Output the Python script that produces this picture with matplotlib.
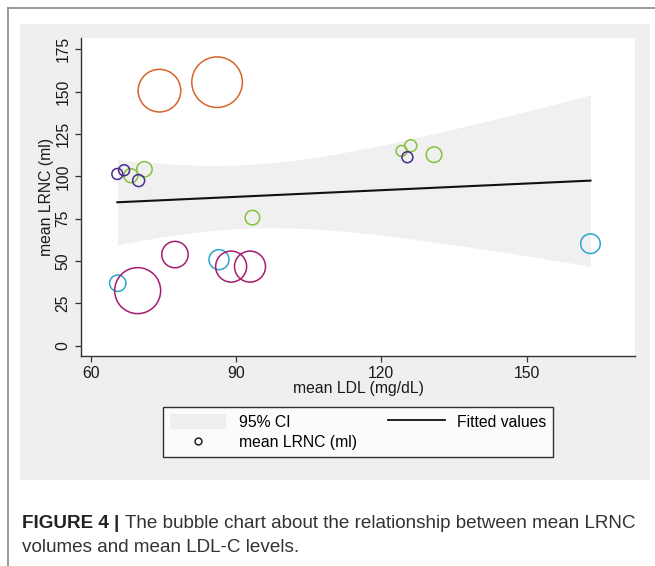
import numpy as np
import matplotlib
matplotlib.use("Agg")
import matplotlib.pyplot as plt
from matplotlib.patches import Rectangle, Patch
from matplotlib.lines import Line2D

plt.rcParams['font.family'] = ['Liberation Sans', 'DejaVu Sans']

# ---- data ----
groups = ['green', 'purple', 'cyan', 'magenta', 'orange']
group_colors = {'orange': '#d8632b', 'purple': '#4a2a8f', 'green': '#86c13d',
                'magenta': '#a51c6f', 'cyan': '#2aa6cb'}

ldl_green = [68.3, 71.1, 93.4, 124.2, 126.1, 130.9]
lrnc_green = [100.4, 104.2, 75.6, 115.0, 118.1, 112.8]
w_green = [49, 59, 53, 30, 36, 61]

ldl_purple = [65.5, 66.9, 69.9, 125.4]
lrnc_purple = [101.4, 103.6, 97.5, 111.3]
w_purple = [30, 30, 36, 30]

ldl_cyan = [65.6, 86.5, 163.2]
lrnc_cyan = [36.9, 50.8, 60.2]
w_cyan = [67, 100, 96]

ldl_magenta = [77.4, 89.0, 92.9, 69.7]
lrnc_magenta = [53.8, 46.7, 46.7, 32.5]
w_magenta = [174, 240, 240, 529]

ldl_orange = [74.2, 86.1]
lrnc_orange = [150.6, 155.6]
w_orange = [454, 640]

series = {
    'green': (ldl_green, lrnc_green, w_green),
    'purple': (ldl_purple, lrnc_purple, w_purple),
    'cyan': (ldl_cyan, lrnc_cyan, w_cyan),
    'magenta': (ldl_magenta, lrnc_magenta, w_magenta),
    'orange': (ldl_orange, lrnc_orange, w_orange),
}

# fitted line and 95% CI
fit_intercept = 76.1
fit_slope = 0.131
ci_center = 91.3
ci_min_half = 18.8
ci_spread = 0.653

xticks = [60, 90, 120, 150]
yticks = [0, 25, 50, 75, 100, 125, 150, 175]

# ---- figure ----
W, H = 655, 566
fig = plt.figure(figsize=(W / 100, H / 100), dpi=100)
fig.patch.set_facecolor('white')

def fx(px):
    return px / W

def fy(py):
    return 1 - py / H

FS = 11.3

# graph region (light gray)
fig.patches.append(Rectangle((fx(20), fy(480)), fx(650) - fx(20), fy(24) - fy(480),
                             transform=fig.transFigure, facecolor='#efefef',
                             edgecolor='none', zorder=0))
# outer frame lines
fig.lines.append(Line2D([fx(7.5), fx(7.5)], [fy(566), fy(7.5)], transform=fig.transFigure,
                        color='#8a8a8a', lw=1.2))
fig.lines.append(Line2D([fx(7.5), fx(655)], [fy(7.5), fy(7.5)], transform=fig.transFigure,
                        color='#8a8a8a', lw=1.2))

ax = fig.add_axes([fx(81), fy(356), fx(635) - fx(81), fy(38) - fy(356)])
ax.set_facecolor('white')
ax.set_zorder(1)

all_x = np.array(ldl_green + ldl_purple + ldl_cyan + ldl_magenta + ldl_orange)
xs = np.linspace(all_x.min(), all_x.max(), 200)
yhat = fit_intercept + fit_slope * xs
half = np.sqrt(ci_min_half ** 2 + ci_spread ** 2 * (xs - ci_center) ** 2)
ax.fill_between(xs, yhat - half, yhat + half, color='#f0f0f0', lw=0, zorder=1)
ax.plot(xs, yhat, color='#111111', lw=1.5, zorder=2)

k = (2 * 0.72) ** 2
for g in groups:
    x, y, w = series[g]
    ax.scatter(x, y, s=np.array(w) * k, facecolors='none',
               edgecolors=group_colors[g], linewidths=1.1, zorder=3)

ax.set_xlim(58.0, 172.4)
ax.set_ylim(-6.1, 181.7)
ax.set_xticks(xticks)
ax.set_yticks(yticks)
ax.spines['top'].set_visible(False)
ax.spines['right'].set_visible(False)
for s in ['left', 'bottom']:
    ax.spines[s].set_color('#333333')
    ax.spines[s].set_linewidth(1.0)
ax.tick_params(direction='out', length=4.5, width=0.9, color='#333333',
               labelsize=FS, labelcolor='#1a1a1a', pad=3)
for lab in ax.get_yticklabels():
    lab.set_rotation(90)
    lab.set_va('center')
ax.set_xlabel('mean LDL (mg/dL)', fontsize=FS, color='#1a1a1a', labelpad=0)
ax.set_ylabel('mean LRNC (ml)', fontsize=FS, color='#1a1a1a', labelpad=1)

handles = [Patch(facecolor='#efefef', edgecolor='none'),
           Line2D([], [], marker='o', ls='none', markerfacecolor='none',
                  markeredgecolor='#111111', markersize=5, markeredgewidth=1.0),
           Line2D([], [], color='#111111', lw=1.3)]
labels = ['95% CI', 'mean LRNC (ml)', 'Fitted values']
leg = fig.legend(handles, labels, ncol=2, loc='center',
                 bbox_to_anchor=(fx(358), fy(432)), frameon=True, fancybox=False,
                 edgecolor='black', fontsize=FS, handlelength=3.6,
                 handleheight=1.1, handletextpad=0.8, columnspacing=2.0,
                 labelspacing=0.3, borderpad=0.45)
leg.get_frame().set_linewidth(1.0)
leg.get_frame().set_facecolor('white')

CFS = 13.6
t1 = fig.text(fx(22), fy(523), 'FIGURE 4 | ', fontsize=CFS, va='center', ha='left',
              fontweight='bold', color='#222222')
fig.canvas.draw()
bb = t1.get_window_extent()
fig.text(bb.x1 / fig.dpi / fig.get_figwidth(), fy(523),
         'The bubble chart about the relationship between mean LRNC',
         fontsize=CFS, va='center', ha='left', color='#333333')
fig.text(fx(22), fy(547), 'volumes and mean LDL-C levels.', fontsize=CFS,
         va='center', ha='left', color='#333333')

fig.savefig('out.png', dpi=100)
